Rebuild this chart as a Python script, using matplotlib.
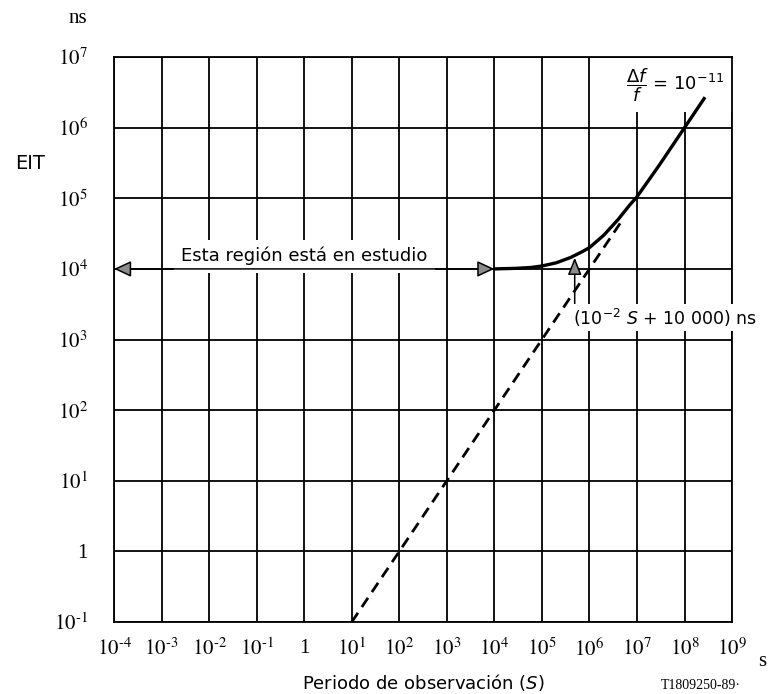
import matplotlib.pyplot as plt

plt.rcParams['mathtext.fontset'] = 'dejavusans'
plt.rcParams['font.family'] = 'DejaVu Sans'

# axis decades
x_ticks = [1e-4, 1e-3, 1e-2, 1e-1, 1e0, 1e1, 1e2, 1e3, 1e4, 1e5, 1e6, 1e7, 1e8, 1e9]
x_labels = [r'$10^{\text{-}4}$', r'$10^{\text{-}3}$', r'$10^{\text{-}2}$', r'$10^{\text{-}1}$', '1',
            r'$10^{1}$', r'$10^{2}$', r'$10^{3}$', r'$10^{4}$', r'$10^{5}$',
            r'$10^{6}$', r'$10^{7}$', r'$10^{8}$', r'$10^{9}$']
y_ticks = [1e-1, 1e0, 1e1, 1e2, 1e3, 1e4, 1e5, 1e6, 1e7]
y_labels = [r'$10^{\text{-}1}$', '1', r'$10^{1}$', r'$10^{2}$', r'$10^{3}$',
            r'$10^{4}$', r'$10^{5}$', r'$10^{6}$', r'$10^{7}$']

# EIT limit curve
curve_s = [1e4, 3e4, 6e4, 1e5, 2e5, 4e5, 7e5, 1e6, 2e6, 4e6, 7e6, 1e7, 3e7, 1e8, 2.7e8]
curve_eit = [1.0e4, 1.02e4, 1.05e4, 1.1e4, 1.22e4, 1.45e4, 1.75e4, 2.0e4, 3.0e4,
             5.0e4, 8.0e4, 1.05e5, 3.0e5, 1.0e6, 2.7e6]

# dashed frequency-offset line
dash_s = [1e1, 5e6]
dash_eit = [1e-1, 5e4]

fig = plt.figure(figsize=(7.71, 6.94), dpi=100)
ax = fig.add_axes([0.1479, 0.1037, 0.8016, 0.8141])
ax.set_xscale('log')
ax.set_yscale('log')
ax.set_xlim(1e-4, 1e9)
ax.set_ylim(1e-1, 1e7)
ax.minorticks_off()

ax.set_xticks(x_ticks)
ax.set_xticklabels(x_labels, math_fontfamily='stix', fontfamily='Liberation Serif', fontsize=15)
ax.set_yticks(y_ticks)
ax.set_yticklabels(y_labels, math_fontfamily='stix', fontfamily='Liberation Serif', fontsize=15)
ax.tick_params(length=0)
ax.tick_params(axis='x', pad=12)
ax.tick_params(axis='y', pad=19)

ax.set_axisbelow(True)
ax.grid(True, color='black', lw=1.3)
for sp in ax.spines.values():
    sp.set_linewidth(1.3)

ax.plot(curve_s, curve_eit, color='black', lw=2.4, zorder=4, solid_capstyle='butt')
ax.plot(dash_s, dash_eit, color='black', lw=2.0, ls=(0, (4, 2.5)), zorder=4)

# region under study
ax.annotate('', xy=(1e-4, 1e4), xytext=(1e4, 1e4),
            arrowprops=dict(arrowstyle='<|-|>,head_length=0.75,head_width=0.35',
                            fc='0.55', ec='black', lw=1.1, shrinkA=0, shrinkB=0,
                            mutation_scale=14), zorder=3)
ax.text(10**0.0, 10**4.18, 'Esta región está en estudio', ha='center', va='center',
        fontsize=13, zorder=2.2,
        bbox=dict(boxstyle='square,pad=0.4', fc='white', ec='none'))

# small pointer to the curve
ax.annotate('', xy=(4.9e5, 10**4.16), xytext=(4.9e5, 10**3.45),
            arrowprops=dict(arrowstyle='-|>,head_length=0.75,head_width=0.3',
                            fc='0.55', ec='black', lw=1.1, shrinkA=0, shrinkB=0,
                            mutation_scale=14), zorder=3)
ax.text(10**5.65, 10**3.31, r'$(10^{-2}\ S$ + 10 000) ns', ha='left', va='center',
        fontsize=12.5, zorder=5, clip_on=False,
        bbox=dict(boxstyle='square,pad=0.15', fc='white', ec='none'))

ax.text(10**6.76, 10**6.6, r'$\dfrac{\Delta f}{f}$ = 10$^{-11}$', ha='left', va='center',
        fontsize=13, zorder=2.2,
        bbox=dict(boxstyle='square,pad=0.45', fc='white', ec='none'))

fig.text(0.0395, 0.765, 'EIT', ha='center', va='center', fontsize=14)
fig.text(0.101, 0.973, 'ns', ha='center', va='center', fontsize=15, fontfamily='Liberation Serif')
fig.text(0.988, 0.047, 's', ha='center', va='center', fontsize=15, fontfamily='Liberation Serif')
fig.text(0.5487, 0.017, 'Periodo de observación ($S$)', ha='center', va='center', fontsize=13)
fig.text(0.857, 0.012, 'T1809250-89·', ha='left', va='center', fontsize=10,
         fontfamily='Liberation Serif')

fig.savefig('out.png', dpi=100, facecolor='white')
